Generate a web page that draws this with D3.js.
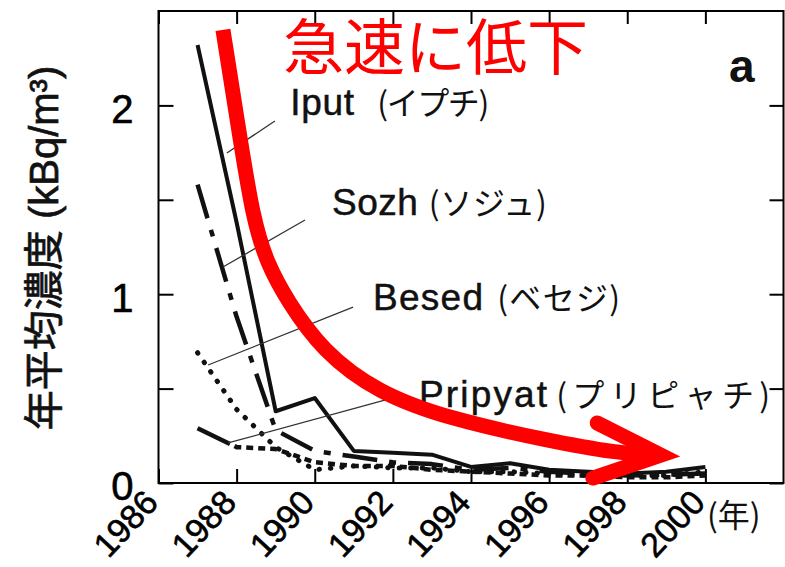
<!DOCTYPE html>
<html><head><meta charset="utf-8">
<script src="https://cdn.jsdelivr.net/npm/d3@7"></script>
<style>body{margin:0;background:#fff}svg{display:block}</style>
</head><body>
<svg id="c" width="785" height="567"></svg>
<script>
// ---- data (kBq/m3, annual mean) ----
const years   = [1987,1988,1989,1990,1991,1992,1993,1994,1995,1996,1997,1998,1999,2000];
const iput    = [2.32,1.38,0.38,0.45,0.17,0.16,0.15,0.085,0.105,0.07,0.06,0.05,0.06,0.085];
const sozh    = [1.58,0.88,0.28,0.17,0.14,0.11,0.10,0.07,0.08,0.06,0.05,0.04,0.045,0.05];
const besed   = [0.69,0.39,0.19,0.07,0.09,0.08,0.08,0.06,0.06,0.05,0.04,0.04,0.04,0.06];
const pripyat = [0.29,0.19,0.18,0.11,0.09,0.09,0.07,0.06,0.05,0.04,0.04,0.03,0.03,0.04];
const seriesNames = ["Iput","Sozh","Besed","Pripyat"];
const seriesKana  = ["(イプチ)","(ソジュ)","(ベセジ)","(プリピャチ)"];
const xTickYears  = [1986,1988,1990,1992,1994,1996,1998,2000];
const yTicks      = [0,0.5,1,1.5,2];
const yLabelTicks = [0,1,2];
const title  = "急速に低下";
const yTitle = "年平均濃度 (kBq/m³)";
const xUnit  = "(年)";
const panel  = "a";

// ---- annotation geometry in data units ----
const arrowCurve = [[1987.65,2.40],[1988.035,1.896],[1988.42,1.393],[1988.80,1.155],[1989.29,0.969],
  [1990.19,0.70],[1991.62,0.477],[1993.46,0.339],[1996.02,0.222],[1997.74,0.159],[1998.75,0.145]];
const arrowHead = [[1997.23,0.318],[1998.86,0.148],[1997.12,0.026]];
const leaders = [
  [[1988.98,1.917],[1987.75,1.748]],
  [[1989.75,1.393],[1987.65,1.144]],
  [[1990.98,0.932],[1987.27,0.625]],
  [[1992.26,0.466],[1987.78,0.212]]
];
const labelPos = [ // latin start year, baseline value, kana start year
  [1989.37,1.949,1991.60],[1990.44,1.4195,1992.92],[1991.49,0.916,1994.67],[1992.67,0.4025,1996.18]
];
const latinLen = [64,86,110,128];
const kanaLen  = [112,118,123,214];

const svg = d3.select("#c");
const x = d3.scaleLinear().domain([1986,2002]).range([158.5,783.5]);
const y = d3.scaleLinear().domain([0,2.5]).range([483,11]);
const LAT = "'Liberation Sans', Arial, sans-serif";
const CJK = "'Noto Sans CJK JP', sans-serif";

svg.append("rect").attr("width",785).attr("height",567).attr("fill","#fff");

// axes (inward ticks on all sides)
const gB = svg.append("g").attr("transform",`translate(0,${y(0)})`)
  .call(d3.axisBottom(x).tickValues(xTickYears).tickSizeInner(-14).tickSizeOuter(0).tickFormat(d3.format("d")));
gB.select(".domain").remove();
gB.selectAll("line").attr("stroke","#000").attr("stroke-width",2);
gB.selectAll("text").attr("x",null).attr("y",null).attr("dy",null)
  .attr("text-anchor","end").attr("transform","translate(1,21) rotate(-47)")
  .attr("font-size",34).attr("font-family",LAT).attr("fill","#000")
  .attr("stroke","#000").attr("stroke-width",0.6);

const gT = svg.append("g").attr("transform",`translate(0,${y(2.5)})`)
  .call(d3.axisTop(x).tickValues(xTickYears).tickSizeInner(-13).tickSizeOuter(0).tickFormat(""));
gT.select(".domain").remove();
gT.selectAll("line").attr("stroke","#000").attr("stroke-width",2);

const gL = svg.append("g").attr("transform",`translate(${x(1986)},0)`)
  .call(d3.axisLeft(y).tickValues(yTicks).tickSizeInner(-15).tickSizeOuter(0).tickPadding(25)
    .tickFormat(d => yLabelTicks.includes(d) ? d3.format("d")(d) : ""));
gL.select(".domain").remove();
gL.selectAll("line").attr("stroke","#000").attr("stroke-width",2);
gL.selectAll("text").attr("dy","0.42em").attr("font-size",40).attr("font-family",LAT).attr("fill","#000")
  .attr("stroke","#000").attr("stroke-width",0.6);

const gR = svg.append("g").attr("transform",`translate(${x(2002)},0)`)
  .call(d3.axisRight(y).tickValues(yTicks).tickSizeInner(-14).tickSizeOuter(0).tickFormat(""));
gR.select(".domain").remove();
gR.selectAll("line").attr("stroke","#000").attr("stroke-width",2);

svg.append("rect").attr("x",x(1986)).attr("y",y(2.5)).attr("width",x(2002)-x(1986)).attr("height",y(0)-y(2.5))
  .attr("fill","none").attr("stroke","#000").attr("stroke-width",2);

// series
const line = d3.line().x(d=>x(d[0])).y(d=>y(d[1]));
const pts = arr => years.map((yr,i)=>[yr,arr[i]]);
const pripDash = [36,5]; for(let i=0;i<80;i++) pripDash.push(7,5);
const styles = [
  {data:iput,   w:4,   dash:null, cap:"butt"},
  {data:sozh,   w:4.5, dash:"35,12,7,12", cap:"butt"},
  {data:besed,  w:5,   dash:"0.5,11", cap:"round"},
  {data:pripyat,w:4.5, dash:pripDash.join(","), cap:"butt"}
];
styles.forEach(s=>{
  svg.append("path").attr("d",line(pts(s.data))).attr("fill","none").attr("stroke","#111")
    .attr("stroke-width",s.w).attr("stroke-dasharray",s.dash).attr("stroke-linecap",s.cap)
    .attr("stroke-linejoin","round");
});

// leaders & labels
leaders.forEach(l=>{
  svg.append("path").attr("d",line(l)).attr("stroke","#333").attr("stroke-width",1.3).attr("fill","none");
});
seriesNames.forEach((n,i)=>{
  const p = labelPos[i];
  svg.append("text").attr("x",x(p[0])).attr("y",y(p[1])).attr("font-family",LAT).attr("font-size",37)
    .attr("textLength",latinLen[i]).attr("fill","#111").attr("stroke","#111").attr("stroke-width",0.5).text(n);
  svg.append("text").attr("x",x(p[2])).attr("y",y(p[1])).attr("font-family",CJK).attr("font-size",32)
    .attr("textLength",kanaLen[i]).attr("fill","#111").text(seriesKana[i]);
});

// titles
svg.append("text").attr("transform","translate(58,248) rotate(-90)").attr("text-anchor","middle")
  .attr("font-family",`${LAT}, ${CJK}`).attr("font-size",40).attr("fill","#111")
  .attr("stroke","#111").attr("stroke-width",0.7).text(yTitle);
svg.append("text").attr("x",707).attr("y",527).attr("font-family",CJK).attr("font-size",32).attr("fill","#111").text(xUnit);
svg.append("text").attr("x",729).attr("y",82).attr("font-family",LAT).attr("font-weight","bold").attr("font-size",46).attr("fill","#111").text(panel);

// red arrow annotation
const curve = d3.line().x(d=>x(d[0])).y(d=>y(d[1])).curve(d3.curveBasis);
svg.append("path").attr("d",curve(arrowCurve)).attr("fill","none").attr("stroke","#ff0000")
  .attr("stroke-width",15).attr("stroke-linecap","butt");
svg.append("path").attr("d",line(arrowHead)).attr("fill","none").attr("stroke","#ff0000")
  .attr("stroke-width",15).attr("stroke-linecap","round").attr("stroke-linejoin","miter");
svg.append("text").attr("x",283).attr("y",70).attr("font-family",CJK).attr("font-size",61)
  .attr("fill","#ff0000").text(title);
</script>
</body></html>
